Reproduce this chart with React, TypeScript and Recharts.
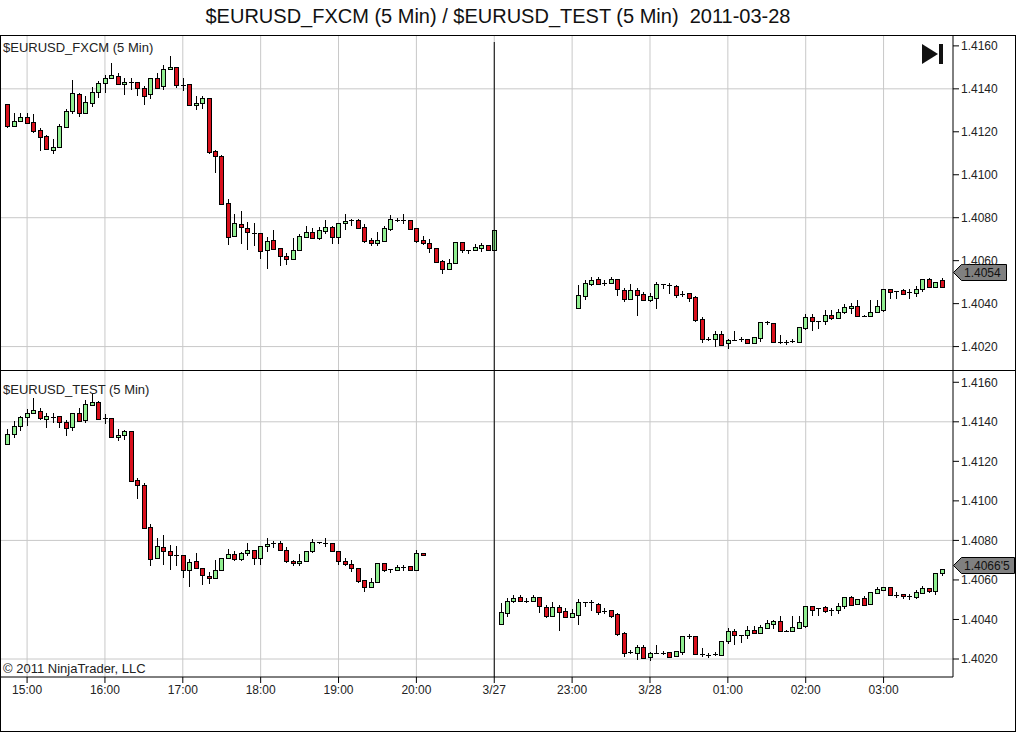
import { Bar, CartesianGrid, ComposedChart, ReferenceDot, ReferenceLine, XAxis, YAxis } from "recharts"

// all prices below are pips above 1.4000
const BASE = 1.4
const PIP = 0.0001

// 5 minute slots on the shared time axis, gaps are where the feed has no bars
const fxcmSlotRuns = [[0, 75], [88, 144]]
const testSlotRuns = [[0, 64], [76, 144]]

const fxcmOpen = [
  132.8, 122.9, 125.0, 126.7, 124.4, 120.7, 117.9, 111.7, 112.8, 122.4,
  129.5, 137.5, 128.9, 133.6, 138.4, 142.6, 144.9, 145.8, 142.1, 143.0,
  143.0, 140.3, 137.5, 144.9, 141.5, 149.1, 150.0, 142.0, 142.1, 132.3,
  133.3, 135.6, 110.9, 108.6, 86.7, 71.3, 76.9, 75.0, 72.9, 72.9,
  64.8, 69.4, 65.7, 62.0, 61.0, 64.8, 71.1, 73.2, 70.7, 74.0,
  75.5, 71.1, 77.4, 78.8, 78.8, 75.5, 69.6, 68.4, 69.3, 74.7,
  79.0, 79.0, 78.8, 75.0, 69.4, 68.0, 65.7, 59.7, 56.2, 58.7,
  68.5, 65.2, 65.0, 66.0, 67.1, 65.2,
  38.1, 43.7, 49.1, 51.3, 49.6, 49.7, 51.3, 46.2, 42.3, 46.2,
  44.3, 41.7, 42.8, 49.1, 48.8, 48.0, 44.6, 44.8, 42.9, 32.7,
  23.7, 23.3, 25.7, 21.5, 22.9, 23.3, 23.3, 21.8, 23.8, 31.3,
  31.2, 22.2, 22.2, 22.7, 22.2, 28.7, 34.0, 32.0, 32.0, 34.5,
  33.4, 36.0, 38.0, 39.1, 34.3, 34.3, 36.2, 37.0, 47.0, 45.8,
  46.3, 45.2, 45.0, 47.0, 51.4, 47.8, 50.9,
]
const fxcmHigh = [
  132.8, 128.6, 128.6, 128.6, 128.1, 121.6, 118.5, 116.7, 123.5, 130.6,
  144.1, 137.9, 136.7, 140.7, 143.7, 146.5, 152.1, 147.2, 145.2, 145.2,
  143.0, 141.5, 144.9, 147.2, 151.1, 155.3, 150.3, 144.9, 142.1, 136.7,
  136.5, 135.6, 111.5, 109.0, 88.5, 81.7, 83.1, 78.1, 77.7, 72.9,
  71.0, 74.2, 65.7, 63.4, 70.4, 72.2, 76.1, 75.0, 75.8, 78.9,
  76.1, 77.4, 81.7, 79.2, 79.2, 76.9, 70.4, 73.2, 76.3, 81.2,
  79.7, 81.7, 78.8, 75.0, 71.5, 69.9, 65.7, 60.3, 61.0, 68.5,
  68.5, 65.2, 67.6, 68.0, 67.1, 74.1,
  48.7, 51.0, 52.2, 52.5, 51.0, 52.2, 51.3, 47.1, 49.1, 47.3,
  45.5, 45.1, 50.2, 49.1, 49.7, 48.7, 45.9, 44.8, 43.5, 33.6,
  24.6, 27.2, 27.2, 23.7, 27.2, 24.3, 23.3, 24.3, 31.3, 32.0,
  31.2, 25.3, 23.0, 23.4, 28.9, 35.4, 35.1, 32.0, 37.0, 37.0,
  37.3, 40.0, 40.4, 41.9, 34.9, 41.9, 41.9, 47.0, 47.0, 45.8,
  47.0, 46.6, 48.1, 51.4, 51.9, 50.3, 51.7,
]
const fxcmLow = [
  121.9, 122.9, 125.0, 123.8, 119.3, 111.2, 111.5, 109.8, 112.8, 121.9,
  128.1, 127.1, 128.9, 131.7, 135.6, 138.1, 144.9, 141.8, 137.1, 139.5,
  136.8, 132.5, 135.3, 140.6, 139.5, 149.1, 140.6, 139.2, 132.3, 130.2,
  130.6, 109.8, 101.0, 86.2, 67.3, 71.3, 67.9, 65.1, 66.8, 60.7,
  56.1, 65.6, 57.5, 57.9, 61.0, 64.8, 71.1, 69.9, 69.6, 72.4,
  67.7, 67.7, 74.2, 76.1, 75.3, 68.4, 66.8, 66.8, 68.8, 73.9,
  78.1, 77.1, 74.2, 68.0, 67.3, 63.7, 59.0, 53.8, 56.2, 58.7,
  63.7, 63.1, 64.5, 64.0, 64.5, 65.2,
  38.1, 41.7, 48.2, 49.3, 48.2, 49.1, 43.5, 40.9, 42.0, 34.4,
  41.4, 40.9, 37.5, 47.0, 44.5, 42.8, 43.2, 40.9, 31.6, 21.5,
  22.6, 20.0, 20.9, 18.8, 22.9, 22.3, 21.5, 21.5, 22.3, 30.0,
  22.2, 21.0, 20.8, 21.7, 22.2, 27.6, 27.3, 28.1, 30.0, 32.6,
  33.4, 35.1, 35.1, 33.9, 33.8, 34.3, 36.2, 36.2, 42.1, 42.1,
  43.8, 42.1, 43.2, 45.6, 47.5, 47.8, 47.2,
]
const fxcmClose = [
  122.9, 124.9, 126.7, 124.3, 120.5, 117.4, 111.8, 112.8, 122.6, 129.5,
  137.9, 128.9, 133.7, 138.4, 142.6, 144.9, 146.3, 142.4, 143.0, 143.0,
  140.3, 136.8, 144.9, 140.6, 149.1, 150.0, 142.0, 142.0, 132.3, 133.3,
  135.6, 110.8, 108.6, 86.2, 70.8, 77.4, 75.5, 73.2, 72.9, 64.6,
  69.0, 65.6, 62.3, 60.9, 64.8, 71.5, 73.2, 70.7, 74.1, 75.5,
  71.1, 77.4, 78.3, 78.8, 75.3, 69.3, 68.4, 69.4, 75.0, 79.2,
  79.0, 79.0, 74.7, 69.3, 68.4, 65.7, 59.5, 56.1, 58.7, 68.5,
  65.1, 65.2, 66.2, 67.1, 65.1, 74.1,
  43.8, 49.4, 50.8, 49.3, 49.6, 51.5, 47.0, 42.3, 46.2, 44.2,
  41.7, 43.4, 49.1, 49.1, 48.8, 44.2, 44.6, 42.4, 32.3, 23.3,
  23.7, 25.7, 20.9, 23.0, 22.9, 23.3, 21.5, 24.3, 31.3, 31.3,
  22.2, 22.2, 22.2, 22.7, 28.9, 34.0, 31.7, 32.0, 34.5, 33.4,
  36.3, 38.2, 39.1, 34.2, 34.3, 36.2, 38.7, 47.0, 45.2, 45.8,
  44.4, 45.2, 47.0, 51.4, 47.8, 50.3, 47.8,
]

const testOpen = [
  129.0, 133.9, 137.9, 142.2, 144.5, 145.7, 141.5, 142.3, 142.7, 140.0,
  137.4, 144.7, 141.1, 148.6, 149.8, 141.7, 141.7, 132.3, 133.4, 135.6,
  110.7, 108.2, 86.8, 70.9, 76.7, 74.6, 72.6, 72.6, 65.0, 69.6,
  65.8, 62.0, 60.8, 64.8, 71.1, 73.1, 70.4, 73.5, 75.2, 70.9,
  77.0, 78.5, 78.9, 75.2, 69.6, 68.4, 69.4, 74.5, 79.0, 78.7,
  78.7, 74.6, 69.6, 68.0, 66.0, 59.9, 56.2, 58.9, 68.6, 65.5,
  65.2, 66.7, 67.0, 65.2, 73.6,
  37.9, 43.5, 49.1, 51.3, 49.6, 49.4, 51.3, 46.4, 42.0, 46.2,
  44.2, 41.3, 42.5, 49.0, 48.6, 47.9, 44.4, 44.7, 42.7, 33.2,
  23.6, 23.2, 25.9, 21.0, 22.9, 23.2, 23.4, 21.7, 23.7, 31.5,
  31.5, 22.4, 22.0, 22.7, 22.2, 29.0, 34.2, 32.3, 32.3, 34.5,
  33.3, 35.7, 37.9, 39.1, 34.2, 34.4, 35.9, 36.9, 46.7, 45.9,
  46.2, 44.8, 44.8, 46.7, 51.4, 47.6, 50.8, 47.6, 53.6, 55.0,
  56.4, 52.6, 52.8, 52.0, 51.6, 53.6, 55.8, 54.2, 63.5,
]
const testHigh = [
  136.6, 140.3, 143.0, 146.4, 151.8, 147.2, 144.7, 144.7, 142.7, 141.1,
  144.7, 147.2, 151.0, 154.7, 150.5, 144.2, 141.7, 136.6, 136.0, 135.6,
  111.5, 109.2, 88.4, 81.2, 82.8, 77.9, 77.3, 72.6, 70.6, 73.6,
  65.8, 63.8, 70.1, 70.9, 75.7, 74.5, 73.9, 78.7, 75.2, 77.2,
  81.2, 79.6, 79.5, 76.8, 70.2, 73.1, 74.5, 80.7, 79.2, 81.2,
  78.7, 74.6, 71.1, 70.1, 66.0, 59.9, 61.1, 68.6, 68.6, 65.5,
  67.7, 67.7, 67.0, 75.3, 73.6,
  48.4, 50.8, 52.3, 52.3, 50.8, 52.2, 51.3, 47.2, 48.9, 47.4,
  45.7, 45.2, 50.3, 49.0, 49.8, 48.4, 45.6, 44.7, 43.4, 33.7,
  24.7, 27.1, 27.1, 23.7, 27.1, 24.2, 23.4, 24.2, 31.5, 32.5,
  31.5, 25.8, 23.0, 23.6, 29.0, 35.6, 35.4, 32.3, 36.7, 36.7,
  37.1, 39.6, 39.8, 41.8, 34.7, 41.8, 41.8, 46.7, 46.7, 45.9,
  46.7, 46.0, 48.1, 51.4, 52.0, 50.3, 52.0, 53.8, 56.5, 56.6,
  56.4, 53.8, 52.8, 52.8, 54.8, 57.0, 55.8, 63.5, 65.3,
]
const testLow = [
  129.0, 131.8, 135.2, 137.9, 144.5, 141.1, 137.1, 139.6, 136.9, 132.7,
  135.4, 140.6, 139.4, 148.6, 141.1, 138.8, 132.3, 130.3, 130.7, 109.5,
  100.7, 86.1, 67.2, 70.9, 67.7, 65.2, 66.9, 60.8, 56.2, 66.0,
  57.6, 58.2, 60.8, 64.8, 71.1, 69.7, 69.6, 72.3, 67.7, 67.7,
  74.0, 76.0, 75.2, 68.6, 66.9, 66.9, 69.2, 73.5, 78.2, 76.8,
  74.0, 67.7, 67.2, 63.8, 58.7, 53.7, 56.2, 58.9, 63.8, 63.3,
  64.7, 64.3, 64.7, 65.2, 72.0,
  37.9, 41.5, 48.1, 49.1, 48.3, 49.1, 43.2, 40.5, 41.7, 34.2,
  41.0, 40.5, 37.3, 46.4, 44.4, 42.5, 43.0, 40.5, 31.7, 21.2,
  22.4, 19.7, 20.7, 19.0, 22.9, 22.2, 21.2, 21.2, 22.0, 30.3,
  22.4, 21.2, 20.7, 21.7, 22.2, 27.8, 27.1, 28.3, 30.3, 32.8,
  33.3, 35.4, 35.4, 33.9, 33.7, 34.4, 35.9, 35.9, 41.8, 41.8,
  43.5, 41.8, 42.7, 45.4, 47.0, 47.6, 47.0, 47.6, 53.1, 54.5,
  52.3, 51.1, 50.4, 50.1, 50.4, 53.1, 53.6, 52.5, 62.0,
]
const testClose = [
  133.9, 138.1, 142.2, 144.7, 146.2, 142.0, 142.7, 142.3, 140.0, 137.1,
  144.7, 140.6, 148.8, 149.9, 141.5, 141.7, 132.3, 133.5, 135.6, 110.3,
  108.0, 86.1, 70.4, 77.2, 74.8, 72.8, 72.6, 64.8, 68.9, 66.0,
  62.3, 60.8, 64.8, 70.9, 73.1, 70.4, 73.6, 75.2, 70.9, 77.2,
  78.2, 78.5, 75.2, 69.4, 68.4, 69.6, 74.5, 79.2, 79.0, 78.7,
  74.5, 69.4, 68.0, 65.8, 59.6, 56.2, 58.9, 68.6, 65.2, 65.5,
  66.5, 66.7, 65.2, 73.6, 72.6,
  43.7, 49.1, 50.8, 49.1, 49.6, 51.5, 46.7, 42.0, 46.4, 44.0,
  41.3, 43.2, 48.8, 49.0, 48.6, 43.9, 44.4, 42.0, 32.9, 23.2,
  23.6, 25.9, 20.7, 22.9, 22.9, 23.2, 21.2, 24.2, 31.5, 31.5,
  22.4, 22.4, 22.0, 22.7, 29.0, 34.2, 32.0, 32.3, 34.5, 33.3,
  36.0, 38.1, 39.3, 34.2, 34.2, 36.0, 38.6, 46.7, 45.0, 45.9,
  44.3, 44.8, 46.9, 51.4, 47.4, 50.3, 47.4, 53.8, 55.5, 56.4,
  52.3, 52.6, 51.8, 52.0, 53.8, 55.8, 54.2, 63.5, 65.3,
]

const timeTickSlots = [3, 15, 27, 39, 51, 63, 75, 87, 99, 111, 123, 135]
const timeTickLabels = ["15:00", "16:00", "17:00", "18:00", "19:00", "20:00", "3/27", "23:00", "3/28", "01:00", "02:00", "03:00"]
const priceTicks = [1.402, 1.404, 1.406, 1.408, 1.41, 1.412, 1.414, 1.416]
const priceGridLines = [1.402, 1.408, 1.414]
const sessionBreakSlot = 75
const fxcmLastPrice = 1.4054
const testLastPrice = 1.40665

const FONT = "'Liberation Sans', Arial, sans-serif"
const UP = "#90ee90"
const DOWN = "#d9101c"
const GRID = "#c8c8c8"
const SLOT_DOMAIN = [-1.02, 145.7]

function buildRows(runs: number[][], open: number[], high: number[], low: number[], close: number[]) {
  const slots: number[] = []
  runs.forEach(([from, to]) => {
    for (let s = from; s <= to; s++) slots.push(s)
  })
  return slots.map((slot, i) => ({
    slot,
    open: BASE + open[i] * PIP,
    close: BASE + close[i] * PIP,
    high: BASE + high[i] * PIP,
    low: BASE + low[i] * PIP,
    range: [BASE + low[i] * PIP, BASE + high[i] * PIP],
  }))
}

const fxcmRows = buildRows(fxcmSlotRuns, fxcmOpen, fxcmHigh, fxcmLow, fxcmClose)
const testRows = buildRows(testSlotRuns, testOpen, testHigh, testLow, testClose)

// Bar hands over the high-low box, open and close are placed proportionally inside it
function Candle(props: any) {
  const { x, y, width, height, payload } = props
  const { open, close, high, low } = payload
  const cx = Math.floor(x + width / 2) + 0.5
  const perPrice = height / (high - low)
  const top = Math.round(y + (high - Math.max(open, close)) * perPrice) + 0.5
  const bottom = Math.round(y + (high - Math.min(open, close)) * perPrice) + 0.5
  const wickTop = Math.round(y)
  const wickBottom = Math.round(y + height)
  return (
    <g>
      <line x1={cx} x2={cx} y1={wickTop} y2={wickBottom} stroke="#000" strokeWidth={1} />
      {bottom > top ? (
        <rect x={cx - 2} y={top} width={4} height={bottom - top} fill={close >= open ? UP : DOWN} stroke="#000" strokeWidth={1} />
      ) : (
        <line x1={cx - 2.5} x2={cx + 2.5} y1={top} y2={top} stroke="#000" strokeWidth={1} />
      )}
    </g>
  )
}

// grey arrow tag with the last price, sits on the right hand axis and grows with its text
function PriceTag(props: any) {
  const { cy, label, tagWidth } = props
  const y = Math.round(cy) - 1.5
  const x = 953.5
  return (
    <g>
      <polygon
        points={`${x},${y} ${x + 8},${y - 8} ${x + tagWidth},${y - 8} ${x + tagWidth},${y + 8} ${x + 8},${y + 8}`}
        fill="#808080"
        stroke="#000"
        strokeWidth={1}
      />
      <text x={x + 10.5} y={y + 4.5} fontSize={12} fontFamily={FONT} fill="#111">
        {label}
      </text>
    </g>
  )
}

function Panel(props: {
  rows: any[]
  domain: number[]
  breakTop: number
  height: number
  margin: any
  last: number
  lastLabel: string
  tagWidth: number
  showTime: boolean
}) {
  const { rows, domain, breakTop, height, margin, last, lastLabel, tagWidth, showTime } = props
  return (
    <ComposedChart width={1016} height={height} data={rows} margin={margin}>
      <CartesianGrid stroke={GRID} strokeWidth={1} horizontalValues={priceGridLines} verticalValues={timeTickSlots} />
      <XAxis
        dataKey="slot"
        type="number"
        domain={SLOT_DOMAIN}
        allowDataOverflow
        ticks={timeTickSlots}
        tickFormatter={(s: number) => timeTickLabels[timeTickSlots.indexOf(s)]}
        interval={0}
        hide={!showTime}
        height={showTime ? 55 : 0}
        axisLine={{ stroke: "#000" }}
        tickLine={{ stroke: "#000" }}
        tickSize={6}
        tickMargin={2}
        tick={{ fontSize: 12, fontFamily: FONT, fill: "#222" }}
      />
      <YAxis
        orientation="right"
        type="number"
        domain={domain}
        allowDataOverflow
        ticks={priceTicks}
        interval={0}
        width={63}
        tickFormatter={(v: number) => v.toFixed(4)}
        axisLine={{ stroke: "#000" }}
        tickLine={{ stroke: "#000" }}
        tickSize={6}
        tickMargin={2}
        tick={{ fontSize: 12, fontFamily: FONT, fill: "#222", textAnchor: "start" }}
      />
      <Bar dataKey="range" barSize={5} shape={Candle} isAnimationActive={false} />
      <ReferenceLine
        segment={[
          { x: sessionBreakSlot, y: breakTop },
          { x: sessionBreakSlot, y: domain[0] },
        ]}
        stroke="#000"
        strokeWidth={1}
      />
      <ReferenceDot
        x={SLOT_DOMAIN[1]}
        y={last}
        ifOverflow="visible"
        shape={(p: any) => <PriceTag {...p} label={lastLabel} tagWidth={tagWidth} />}
      />
    </ComposedChart>
  )
}

const labelStyle: any = { position: "absolute", fontSize: 13, color: "#222", whiteSpace: "nowrap", lineHeight: "15px" }

export default function App() {
  return (
    <div style={{ position: "absolute", left: 0, top: 0, width: 1016, height: 732, background: "#fff", fontFamily: FONT, overflow: "hidden" }}>
      <div style={{ position: "absolute", left: 0, right: 20, top: 4, textAlign: "center", fontSize: 20, lineHeight: "24px", color: "#111", whiteSpace: "pre" }}>
        {"$EURUSD_FXCM (5 Min) / $EURUSD_TEST (5 Min)  2011-03-28"}
      </div>
      <div style={{ position: "absolute", left: 0, top: 0 }}>
        <Panel
          rows={fxcmRows}
          domain={[1.40091, 1.41646]}
          breakTop={1.41618}
          height={371}
          margin={{ top: 36, right: 0, bottom: 1, left: 1 }}
          last={fxcmLastPrice}
          lastLabel="1.4054"
          tagWidth={53}
          showTime={false}
        />
      </div>
      <div style={{ position: "absolute", left: 0, top: 371 }}>
        <Panel
          rows={testRows}
          domain={[1.40109, 1.41657]}
          breakTop={1.41657}
          height={361}
          margin={{ top: 0, right: 0, bottom: 0, left: 1 }}
          last={testLastPrice}
          lastLabel="1.4066'5"
          tagWidth={61}
          showTime
        />
      </div>
      {/* frame and pane divider */}
      <div style={{ position: "absolute", left: 0, top: 35, width: 1014, height: 695, border: "1px solid #000", pointerEvents: "none" }} />
      <div style={{ position: "absolute", left: 0, top: 370, width: 1016, height: 1, background: "#000" }} />
      <div style={{ ...labelStyle, left: 3, top: 40 }}>$EURUSD_FXCM (5 Min)</div>
      <div style={{ ...labelStyle, left: 3, top: 382 }}>$EURUSD_TEST (5 Min)</div>
      <div style={{ ...labelStyle, left: 3, top: 661 }}>© 2011 NinjaTrader, LLC</div>
      <svg style={{ position: "absolute", left: 920, top: 42 }} width={26} height={24}>
        <polygon points="2,2 18,12 2,22" fill="#111" />
        <rect x={19} y={2} width={4} height={20} fill="#111" />
      </svg>
    </div>
  )
}
